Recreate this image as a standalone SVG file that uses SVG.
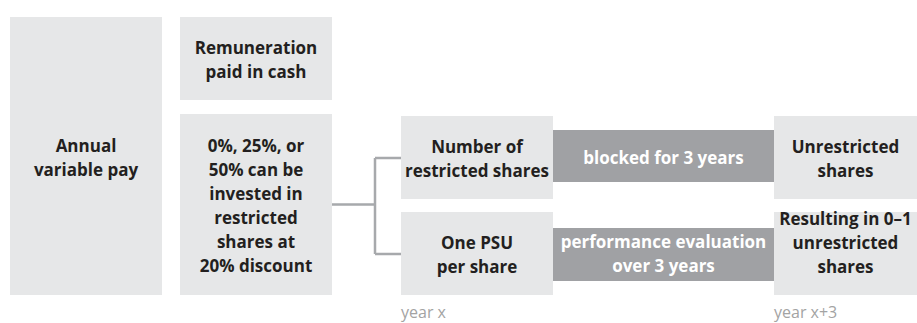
<svg xmlns="http://www.w3.org/2000/svg" width="917" height="323" viewBox="0 0 917 323">
<style>
.box{fill:#E6E7E8}
.bar{fill:#A0A1A4}
.t{font-family:"Open Sans","Liberation Sans",sans-serif;font-weight:bold;font-size:17px;fill:#231F20;text-anchor:middle}
.w{fill:#FFFFFF}
.y{font-family:"Open Sans","Liberation Sans",sans-serif;font-weight:normal;font-size:16px;fill:#A3A3A3}
.c{fill:none;stroke:#A7A9AC;stroke-width:2.5}
</style>
<rect width="917" height="323" fill="#FFFFFF"/>
<g id="connectors">
<path class="c" d="M332 204.5H375M375 158H401M375 158V254M375 254H401"/>
</g>
<g id="annual">
<rect class="box" x="10" y="17" width="152" height="278"/>
<text class="t" x="86" y="152">Annual</text>
<text class="t" x="86" y="176">variable pay</text>
</g>
<g id="cash">
<rect class="box" x="180" y="17" width="152" height="83"/>
<text class="t" x="256" y="54">Remuneration</text>
<text class="t" x="256" y="78">paid in cash</text>
</g>
<g id="invest">
<rect class="box" x="180" y="114" width="152" height="181"/>
<text class="t" x="256" y="152">0%, 25%, or</text>
<text class="t" x="256" y="176">50% can be</text>
<text class="t" x="256" y="200">invested in</text>
<text class="t" x="256" y="224">restricted</text>
<text class="t" x="256" y="248">shares at</text>
<text class="t" x="256" y="272">20% discount</text>
</g>
<g id="restricted">
<rect class="box" x="401" y="116" width="152" height="83"/>
<text class="t" x="477" y="153">Number of</text>
<text class="t" x="477" y="177">restricted shares</text>
</g>
<g id="blocked">
<rect class="bar" x="553" y="130" width="221" height="52"/>
<text class="t w" x="663.5" y="164">blocked for 3 years</text>
</g>
<g id="unrestricted">
<rect class="box" x="774" y="116" width="143" height="83"/>
<text class="t" x="845.5" y="153">Unrestricted</text>
<text class="t" x="845.5" y="177">shares</text>
</g>
<g id="psu">
<rect class="box" x="401" y="212" width="152" height="83"/>
<text class="t" x="477" y="249">One PSU</text>
<text class="t" x="477" y="273">per share</text>
</g>
<g id="performance">
<rect class="bar" x="553" y="228" width="221" height="53"/>
<text class="t w" x="663.5" y="248">performance evaluation</text>
<text class="t w" x="663.5" y="272">over 3 years</text>
</g>
<g id="resulting">
<rect class="box" x="774" y="212" width="143" height="83"/>
<text class="t" x="845.5" y="225">Resulting in 0–1</text>
<text class="t" x="845.5" y="249">unrestricted</text>
<text class="t" x="845.5" y="273">shares</text>
</g>
<text class="y" x="401" y="318">year x</text>
<text class="y" x="774" y="318">year x+3</text>
</svg>
